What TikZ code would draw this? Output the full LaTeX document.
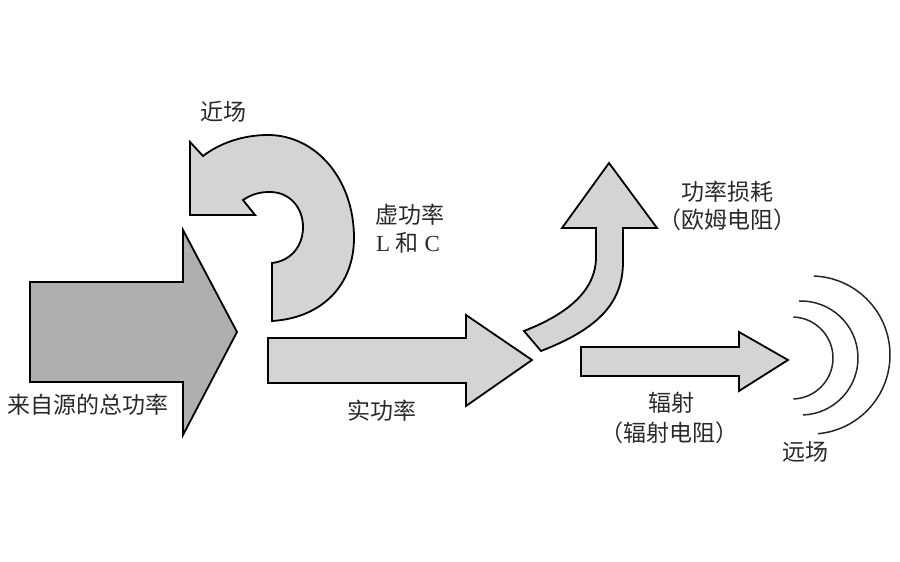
\documentclass[tikz,border=0pt]{standalone}
\usepackage{fontspec}
\setmainfont{Liberation Serif}
\newfontfamily\cjk{Noto Sans CJK SC}
\definecolor{darkfill}{HTML}{AFAFAF}
\definecolor{lightfill}{HTML}{D4D4D4}
\definecolor{txt}{HTML}{2A2A2A}
\tikzset{
  bigarrow/.style={draw=black, line width=1.8pt, fill=darkfill, line join=miter},
  lightarrow/.style={draw=black, line width=1.8pt, fill=lightfill, line join=miter},
  wave/.style={draw=black!85, line width=1.5pt},
  lbl/.style={text=txt, font=\cjk\fontsize{23}{27}\selectfont, inner sep=0pt, align=center}
}
\begin{document}
\begin{tikzpicture}[x=1pt,y=-1pt]
\useasboundingbox (0,0) rectangle (900,562);
% total power arrow
\draw[bigarrow] (30,282) -- (183,282) -- (183,230) -- (237,332) -- (183,435) -- (183,382) -- (30,382) -- cycle;
% near field curved arrow
\draw[lightarrow] (272,321) .. controls (322,318) and (354,285) .. (354,238)
  .. controls (354,178) and (315,135) .. (268,135)
  .. controls (243,135) and (220,143) .. (203,156)
  -- (190,142) -- (190,215) -- (255,215) -- (243,200)
  .. controls (252,194) and (260,192) .. (270,192)
  .. controls (290,192) and (303,208) .. (303,227)
  .. controls (303,247) and (290,261) .. (272,263) -- cycle;
% real power arrow
\draw[lightarrow] (268,338) -- (466,338) -- (466,315) -- (532,360) -- (466,406) -- (466,383) -- (268,383) -- cycle;
% loss arrow
\draw[lightarrow] (524,331) -- (541,351) .. controls (595,330) and (623,305) .. (623,262)
  -- (623,228) -- (657,228) -- (609,163) -- (562,228) -- (596,228) -- (596,257)
  .. controls (596,292) and (565,315) .. (524,331) -- cycle;
% radiation arrow
\draw[lightarrow] (581,347) -- (739,347) -- (739,332) -- (788,360) -- (739,391) -- (739,376) -- (581,376) -- cycle;
% far-field waves
\draw[wave] (792,358) ++(-88:41) arc[start angle=-88, end angle=88, radius=41];
\draw[wave] (801,358) ++(-92:57) arc[start angle=-92, end angle=88, radius=57];
\draw[wave] (811,355) ++(-88:79) arc[start angle=-88, end angle=85, radius=79];
% labels
\node[lbl] (near) at (223,112) {近场};
\node[lbl] (reactive) at (410,215) {虚功率};
\node[lbl] (lc) at (408,243) {\rmfamily L {\cjk 和} C};
\node[lbl] (total) at (88,405) {来自源的总功率};
\node[lbl] (real) at (382,411) {实功率};
\node[lbl] (loss) at (727,192) {功率损耗};
\node[lbl] (ohm) at (727,220) {（欧姆电阻）};
\node[lbl] (rad) at (671,403) {辐射};
\node[lbl] (radres) at (669,433) {（辐射电阻）};
\node[lbl] (far) at (805,452) {远场};
\end{tikzpicture}
\end{document}
